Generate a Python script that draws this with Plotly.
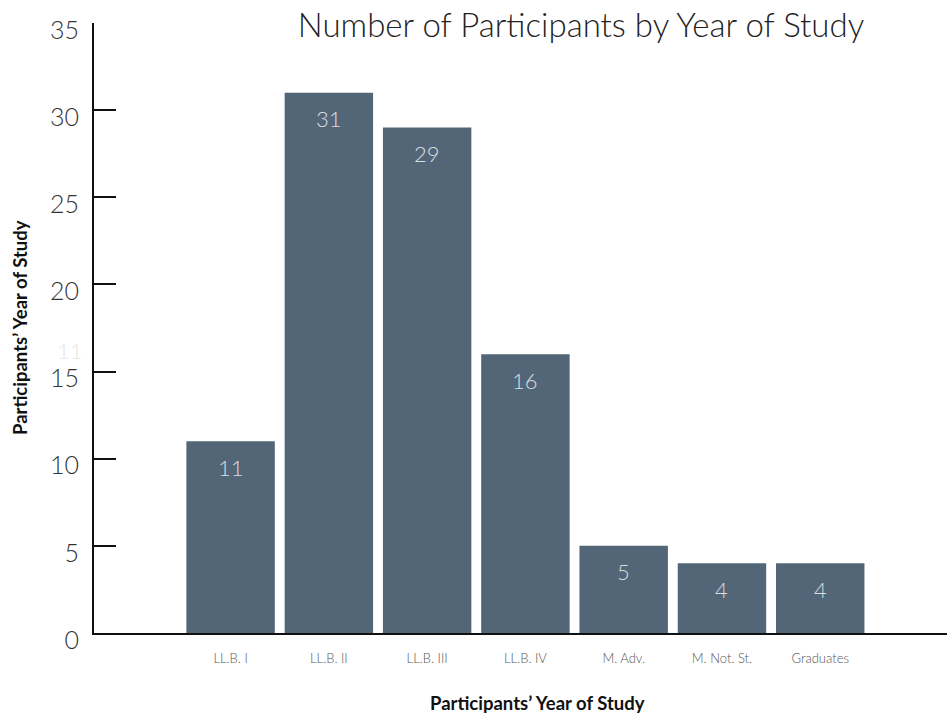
import plotly.graph_objects as go

categories = ["LL.B. I", "LL.B. II", "LL.B. III", "LL.B. IV", "M. Adv.", "M. Not. St.", "Graduates"]
participants = [11, 31, 29, 16, 5, 4, 4]
y_ticks = [0, 5, 10, 15, 20, 25, 30, 35]

BAR = "#536677"
THIN = dict(family="Lato", weight=300)

fig = go.Figure()
fig.add_trace(go.Bar(
    x=list(range(len(categories))), y=participants,
    marker=dict(color=BAR, line=dict(width=0)),
    hoverinfo="skip",
))

for i, v in enumerate(participants):
    fig.add_annotation(x=i, y=v, text=str(v), showarrow=False, yshift=-26,
                       font=dict(size=22, color="#d9dee3", **THIN))

# stray faint label
fig.add_annotation(xref="paper", yref="y", x=-0.011, y=15.3, text="11", showarrow=False,
                   xanchor="right", yanchor="bottom", font=dict(size=22, color="#e6e6e6", **THIN))

fig.add_annotation(xref="paper", yref="paper", x=(537 - 94) / 853, y=-(703 - 633) / 610,
                   text="Participants’ Year of Study", showarrow=False,
                   xanchor="center", yanchor="middle",
                   font=dict(size=18.5, color="#111", family="Lato", weight=700))
fig.add_annotation(xref="paper", yref="paper", x=-(94 - 20) / 853, y=(633 - 328) / 610,
                   text="Participants’ Year of Study", showarrow=False, textangle=-90,
                   xanchor="center", yanchor="middle",
                   font=dict(size=18.5, color="#111", family="Lato", weight=700))

fig.update_layout(
    width=947, height=713,
    margin=dict(l=94, r=0, t=23, b=80),
    paper_bgcolor="white", plot_bgcolor="white",
    bargap=0.1, showlegend=False,
    title=dict(text="Number of Participants by Year of Study", x=581 / 947, xanchor="center",
               y=1 - 25 / 713, yanchor="middle",
               font=dict(size=33, color="#222", **THIN)),
    xaxis=dict(
        tickmode="array", tickvals=list(range(len(categories))), ticktext=categories,
        range=[-1.39, 7.29], showgrid=False, zeroline=False,
        showline=True, linecolor="#111", linewidth=2, ticks="",
        tickfont=dict(size=13, color="#555", **THIN),
        ticklabelstandoff=12,
    ),
    yaxis=dict(
        range=[0, 35], tickmode="array", tickvals=y_ticks, showgrid=False, zeroline=False,
        showline=True, linecolor="#111", linewidth=2,
        ticks="inside", ticklen=22, tickwidth=2, tickcolor="#111",
        tickfont=dict(size=25, color="#333", **THIN),
        ticklabelstandoff=8, ticklabelshift=7,
    ),
)

fig.write_html("out.html")
